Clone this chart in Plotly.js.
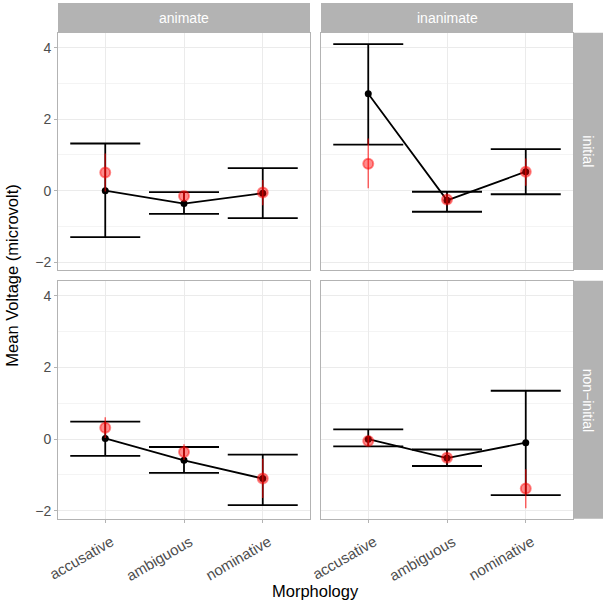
<!DOCTYPE html>
<html>
<head>
<meta charset="utf-8">
<script src="https://cdn.plot.ly/plotly-3.0.1.min.js"></script>
<style>html,body{margin:0;padding:0;background:#fff;}#chart{width:606px;height:605px;}</style>
</head>
<body>
<div id="chart"></div>
<script>
// Categories
const categories = ['accusative', 'ambiguous', 'nominative'];
const columnLabels = ['animate', 'inanimate'];
const rowLabels = ['initial', 'non\u2212initial'];

// Black series (mean with CI) per panel
const blackMean_animate_initial = [0.00, -0.36, -0.07];
const blackHigh_animate_initial = [1.32, -0.04, 0.63];
const blackLow_animate_initial  = [-1.30, -0.65, -0.77];

const blackMean_inanimate_initial = [2.71, -0.27, 0.53];
const blackHigh_inanimate_initial = [4.10, -0.03, 1.16];
const blackLow_inanimate_initial  = [1.29, -0.59, -0.10];

const blackMean_animate_noninitial = [0.02, -0.59, -1.10];
const blackHigh_animate_noninitial = [0.49, -0.22, -0.43];
const blackLow_animate_noninitial  = [-0.47, -0.94, -1.84];

const blackMean_inanimate_noninitial = [0.00, -0.53, -0.10];
const blackHigh_inanimate_noninitial = [0.27, -0.29, 1.35];
const blackLow_inanimate_noninitial  = [-0.20, -0.75, -1.56];

// Red series (mean with interval) per panel
const redMean_animate_initial = [0.51, -0.15, -0.05];
const redHigh_animate_initial = [1.04, -0.04, 0.30];
const redLow_animate_initial  = [-0.02, -0.26, -0.41];

const redMean_inanimate_initial = [0.75, -0.25, 0.53];
const redHigh_inanimate_initial = [1.46, -0.14, 0.90];
const redLow_inanimate_initial  = [0.07, -0.36, 0.14];

const redMean_animate_noninitial = [0.32, -0.36, -1.10];
const redHigh_animate_noninitial = [0.61, -0.14, -0.55];
const redLow_animate_noninitial  = [0.03, -0.58, -1.64];

const redMean_inanimate_noninitial = [-0.05, -0.52, -1.38];
const redHigh_inanimate_noninitial = [0.07, -0.41, -0.84];
const redLow_inanimate_noninitial  = [-0.17, -0.63, -1.93];

const yTickVals = [-2, 0, 2, 4];

const panels = [
  {xa: 'x', ya: 'y', bm: blackMean_animate_initial, bh: blackHigh_animate_initial, bl: blackLow_animate_initial,
   rm: redMean_animate_initial, rh: redHigh_animate_initial, rl: redLow_animate_initial},
  {xa: 'x2', ya: 'y2', bm: blackMean_inanimate_initial, bh: blackHigh_inanimate_initial, bl: blackLow_inanimate_initial,
   rm: redMean_inanimate_initial, rh: redHigh_inanimate_initial, rl: redLow_inanimate_initial},
  {xa: 'x3', ya: 'y3', bm: blackMean_animate_noninitial, bh: blackHigh_animate_noninitial, bl: blackLow_animate_noninitial,
   rm: redMean_animate_noninitial, rh: redHigh_animate_noninitial, rl: redLow_animate_noninitial},
  {xa: 'x4', ya: 'y4', bm: blackMean_inanimate_noninitial, bh: blackHigh_inanimate_noninitial, bl: blackLow_inanimate_noninitial,
   rm: redMean_inanimate_noninitial, rh: redHigh_inanimate_noninitial, rl: redLow_inanimate_noninitial}
];

const traces = [];
panels.forEach(p => {
  traces.push({
    type: 'scatter', mode: 'lines+markers', x: categories, y: p.bm,
    xaxis: p.xa, yaxis: p.ya, showlegend: false, cliponaxis: false,
    line: {color: '#000', width: 1.8},
    marker: {color: '#000', size: 7},
    error_y: {type: 'data', symmetric: false,
      array: p.bh.map((h, i) => h - p.bm[i]),
      arrayminus: p.bm.map((m, i) => m - p.bl[i]),
      color: '#000', thickness: 1.8, width: 35}
  });
  traces.push({
    type: 'scatter', mode: 'markers', x: categories, y: p.rm,
    xaxis: p.xa, yaxis: p.ya, showlegend: false, cliponaxis: false,
    marker: {color: 'rgba(255,0,0,0.45)', size: 10, line: {color: 'rgba(255,0,0,0.45)', width: 2}},
    error_y: {type: 'data', symmetric: false,
      array: p.rh.map((h, i) => h - p.rm[i]),
      arrayminus: p.rm.map((m, i) => m - p.rl[i]),
      color: 'rgba(255,0,0,0.6)', thickness: 1.5, width: 0}
  });
});

const W = 606, H = 605;
const xL = [58 / W, 310 / W], xR = [321 / W, 573 / W];
const yT = [1 - 270 / H, 1 - 32.7 / H], yB = [1 - 518.7 / H, 1 - 280.7 / H];
const yRange = [-2.22, 4.42];
const font = 'Liberation Sans, Arial, sans-serif';
const grid = '#ebebeb';
const border = '#b3b3b3';

function xAxis(domain, anchor, showLabels) {
  return {
    domain: domain, anchor: anchor, type: 'category', categoryarray: categories, categoryorder: 'array',
    range: [-0.6, 2.6], showgrid: true, gridcolor: grid, gridwidth: 1, zeroline: false,
    showline: true, mirror: true, linecolor: border, linewidth: 1,
    ticks: showLabels ? 'outside' : '', ticklen: 3, tickcolor: border, tickwidth: 1,
    showticklabels: showLabels, tickangle: -30,
    ticklabelstandoff: 5, ticklabelshift: 6,
    tickfont: {family: font, size: 15, color: '#4d4d4d'}
  };
}
function yAxis(domain, anchor, showLabels) {
  return {
    domain: domain, anchor: anchor, range: yRange, tickvals: yTickVals,
    showgrid: true, gridcolor: grid, gridwidth: 1, zeroline: false,
    minor: {tickvals: [-1, 1, 3], showgrid: true, gridcolor: '#efefef', gridwidth: 0.7},
    showline: true, mirror: true, linecolor: border, linewidth: 1,
    ticks: showLabels ? 'outside' : '', ticklen: 3, tickcolor: border, tickwidth: 1,
    showticklabels: showLabels,
    tickfont: {family: font, size: 14, color: '#4d4d4d'}
  };
}

const stripFill = '#b3b3b3';
const shapes = [
  {type: 'rect', xref: 'paper', yref: 'paper', x0: xL[0], x1: xL[1], y0: 1 - 32.7 / H, y1: 1 - 3 / H, fillcolor: stripFill, line: {width: 0}},
  {type: 'rect', xref: 'paper', yref: 'paper', x0: xR[0], x1: xR[1], y0: 1 - 32.7 / H, y1: 1 - 3 / H, fillcolor: stripFill, line: {width: 0}},
  {type: 'rect', xref: 'paper', yref: 'paper', x0: 573.3 / W, x1: 603 / W, y0: yT[0], y1: yT[1], fillcolor: stripFill, line: {width: 0}},
  {type: 'rect', xref: 'paper', yref: 'paper', x0: 573.3 / W, x1: 603 / W, y0: yB[0], y1: yB[1], fillcolor: stripFill, line: {width: 0}}
];

const stripFont = {family: font, size: 14, color: '#ffffff'};
const annotations = [
  {xref: 'paper', yref: 'paper', x: (xL[0] + xL[1]) / 2, y: 1 - 18 / H, text: columnLabels[0], showarrow: false, font: stripFont, xanchor: 'center', yanchor: 'middle'},
  {xref: 'paper', yref: 'paper', x: (xR[0] + xR[1]) / 2, y: 1 - 18 / H, text: columnLabels[1], showarrow: false, font: stripFont, xanchor: 'center', yanchor: 'middle'},
  {xref: 'paper', yref: 'paper', x: 588 / W, y: (yT[0] + yT[1]) / 2, text: rowLabels[0], textangle: 90, showarrow: false, font: stripFont, xanchor: 'center', yanchor: 'middle'},
  {xref: 'paper', yref: 'paper', x: 588 / W, y: (yB[0] + yB[1]) / 2, text: rowLabels[1], textangle: 90, showarrow: false, font: stripFont, xanchor: 'center', yanchor: 'middle'},
  {xref: 'paper', yref: 'paper', x: 315.5 / W, y: 1 - 591 / H, text: 'Morphology', showarrow: false, font: {family: font, size: 16.5, color: '#000'}, xanchor: 'center', yanchor: 'middle'},
  {xref: 'paper', yref: 'paper', x: 12 / W, y: 1 - 275.7 / H, text: 'Mean Voltage (microvolt)', textangle: -90, showarrow: false, font: {family: font, size: 16.5, color: '#000'}, xanchor: 'center', yanchor: 'middle'}
];

const layout = {
  width: W, height: H, margin: {l: 0, r: 0, t: 0, b: 0},
  paper_bgcolor: '#fff', plot_bgcolor: '#fff', showlegend: false,
  font: {family: font},
  xaxis: xAxis(xL, 'y', false),
  xaxis2: xAxis(xR, 'y2', false),
  xaxis3: xAxis(xL, 'y3', true),
  xaxis4: xAxis(xR, 'y4', true),
  yaxis: yAxis(yT, 'x', true),
  yaxis2: yAxis(yT, 'x2', false),
  yaxis3: yAxis(yB, 'x3', true),
  yaxis4: yAxis(yB, 'x4', false),
  shapes: shapes, annotations: annotations
};

Plotly.newPlot('chart', traces, layout, {staticPlot: true, displayModeBar: false});
</script>
</body>
</html>
